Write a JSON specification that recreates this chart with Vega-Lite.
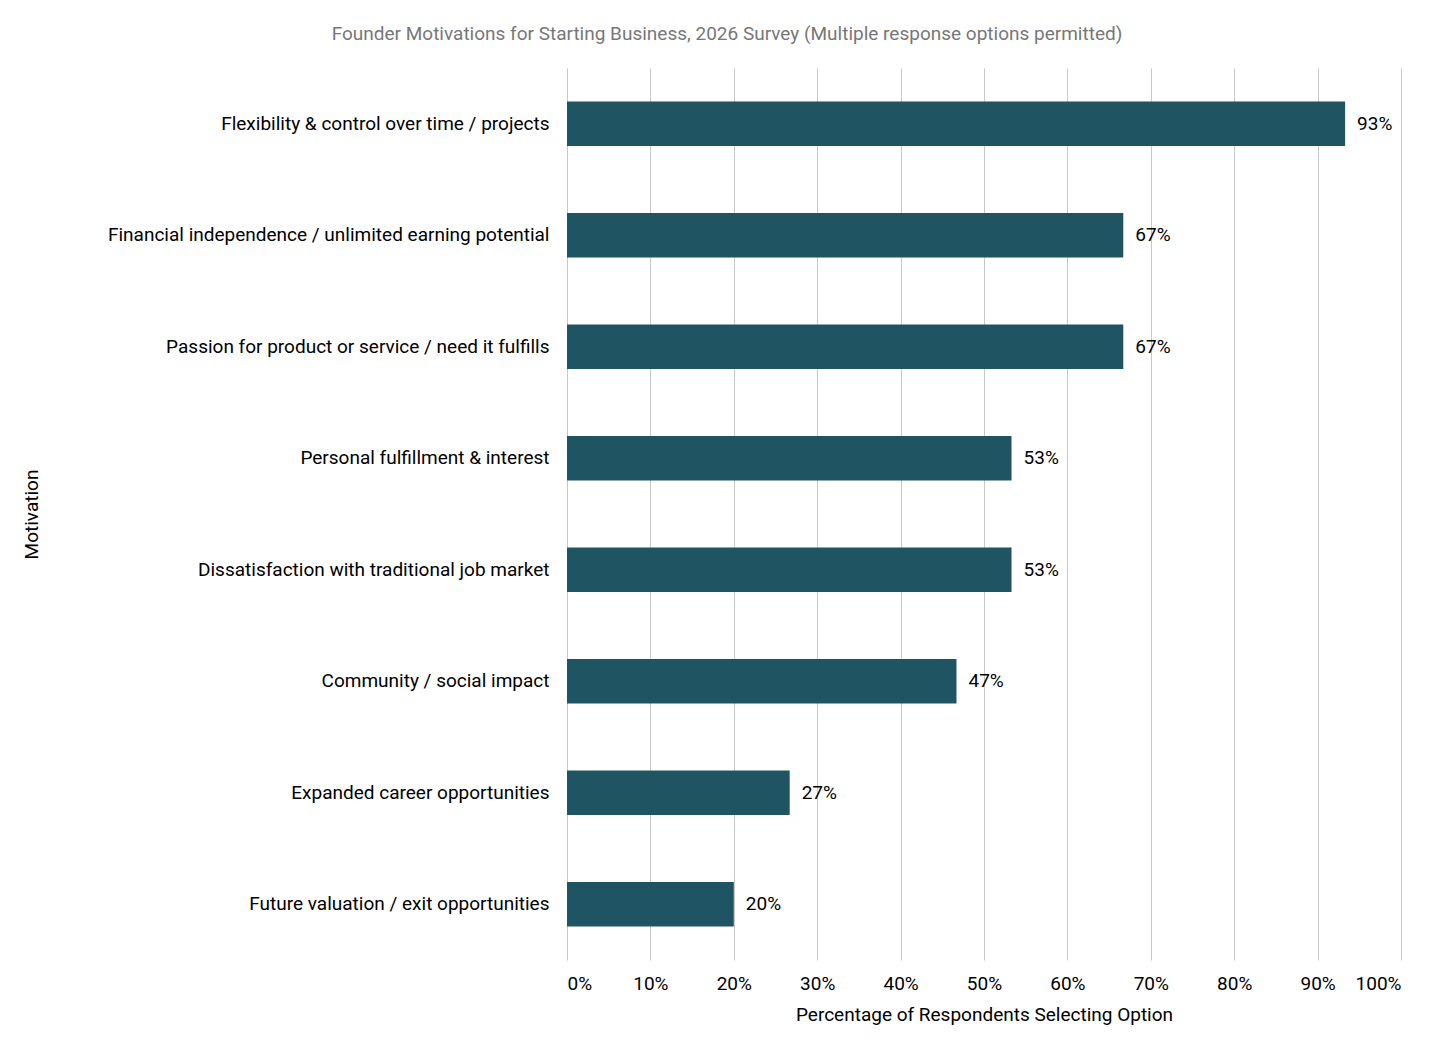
{
  "$schema": "https://vega.github.io/schema/vega-lite/v6.json",
  "autosize": "none",
  "width": 834,
  "height": 892,
  "padding": {"left": 567, "top": 68, "right": 55, "bottom": 97},
  "background": "white",
  "title": {
    "text": "Founder Motivations for Starting Business, 2026 Survey (Multiple response options permitted)",
    "font": "Roboto", "fontSize": 19, "fontWeight": "normal", "color": "#777777",
    "anchor": "middle", "dx": -257, "offset": 24
  },
  "data": {
    "values": [
      {"Motivation": "Flexibility & control over time / projects", "pct": 0.933},
      {"Motivation": "Financial independence / unlimited earning potential", "pct": 0.667},
      {"Motivation": "Passion for product or service / need it fulfills", "pct": 0.667},
      {"Motivation": "Personal fulfillment & interest", "pct": 0.533},
      {"Motivation": "Dissatisfaction with traditional job market", "pct": 0.533},
      {"Motivation": "Community / social impact", "pct": 0.467},
      {"Motivation": "Expanded career opportunities", "pct": 0.267},
      {"Motivation": "Future valuation / exit opportunities", "pct": 0.2}
    ]
  },
  "encoding": {
    "y": {
      "field": "Motivation", "type": "nominal", "sort": null, "title": "Motivation",
      "scale": {"paddingInner": 0.6, "paddingOuter": 0.3},
      "axis": {"domain": false, "ticks": false, "labelPadding": 18, "labelFontSize": 19, "labelFont": "Roboto", "labelColor": "#000", "labelLimit": 600,
        "titleFontSize": 19, "titleFont": "Roboto", "titleFontWeight": "normal", "titleColor": "#000", "titleX": -526, "titleY": 446, "titleAngle": -90}
    },
    "x": {
      "field": "pct", "type": "quantitative", "title": "Percentage of Respondents Selecting Option",
      "scale": {"domain": [0, 1]},
      "axis": {"format": ".0%", "tickCount": 10, "domain": false, "ticks": false, "grid": true, "gridColor": "#c8c8c8",
        "labelPadding": 14, "labelFontSize": 19, "labelFont": "Roboto", "labelColor": "#000",
        "titleFontSize": 19, "titleFont": "Roboto", "titleFontWeight": "normal", "titleColor": "#000", "titlePadding": 12}
    }
  },
  "layer": [
    {"mark": {"type": "bar", "color": "#1f5462"}},
    {"mark": {"type": "text", "align": "left", "dx": 12, "fontSize": 19, "font": "Roboto", "color": "#000"},
     "encoding": {"text": {"field": "pct", "type": "quantitative", "format": ".0%"}}}
  ],
  "config": {"view": {"stroke": null}}
}
